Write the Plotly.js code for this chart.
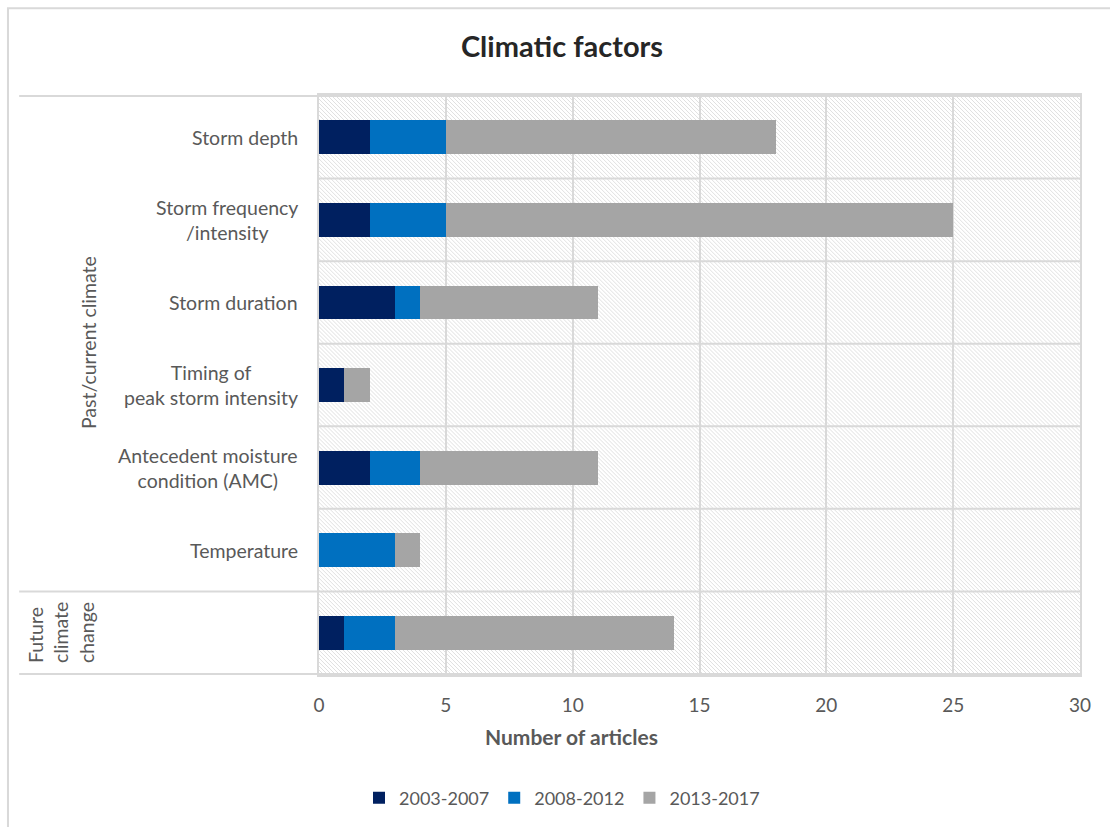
<!DOCTYPE html>
<html>
<head>
<meta charset="utf-8">
<script src="https://cdn.plot.ly/plotly-3.0.1.min.js"></script>
<style>
  html, body { margin: 0; padding: 0; background: #fff; }
  #chart { width: 1110px; height: 827px; }
</style>
</head>
<body>
<div id="chart"></div>
<script>
// Climatic factors: number of articles per factor, stacked by publication period
const categories = [
  "Storm depth",
  "Storm frequency /intensity",
  "Storm duration",
  "Timing of peak storm intensity",
  "Antecedent moisture condition (AMC)",
  "Temperature",
  "Future climate change"
];
const categoryLabels = [
  "Storm depth",
  "Storm frequency<br>/intensity",
  "Storm duration",
  "Timing of<br>peak storm intensity",
  "Antecedent moisture<br>condition (AMC)",
  "Temperature",
  ""
];
const seriesNames = ["2003-2007", "2008-2012", "2013-2017"];
const p2003_2007 = [2, 2, 3, 1, 2, 0, 1];
const p2008_2012 = [3, 3, 1, 0, 2, 3, 2];
const p2013_2017 = [13, 20, 7, 1, 7, 1, 11];
const seriesColors = ["#002060", "#0070C0", "#A5A5A5"];
const xTicks = [0, 5, 10, 15, 20, 25, 30];

const font = "Lato, 'Open Sans', sans-serif";
const grey = "#595959";
const lineGrey = "#d9d9d9";

const traces = [p2003_2007, p2008_2012, p2013_2017].map((vals, i) => ({
  type: "bar",
  orientation: "h",
  name: seriesNames[i],
  y: categories,
  x: vals,
  marker: { color: seriesColors[i], line: { width: 0 } },
  hoverinfo: "x+name"
}));

// Light diagonal hatch behind the plotting area
const W = 761, H = 581;
const hatchSvg =
  `<svg xmlns="http://www.w3.org/2000/svg" width="${W}" height="${H}">` +
  `<defs><pattern id="h" width="4" height="4" patternUnits="userSpaceOnUse">` +
  `<path d="M-1,-1 L5,5 M-1,3 L1,5 M3,-1 L5,1" stroke="#e0e0e0" stroke-width="1"/>` +
  `</pattern></defs><rect width="${W}" height="${H}" fill="#fff"/>` +
  `<rect width="${W}" height="${H}" fill="url(#h)"/></svg>`;
const hatchUri = "data:image/svg+xml;charset=utf-8," + encodeURIComponent(hatchSvg);

const shapes = [];
// separators between categories inside the plot
for (let i = 0; i < categories.length - 1; i++) {
  if (i === 5) continue;
  shapes.push({ type: "line", xref: "paper", yref: "y", x0: 0, x1: 1, y0: i + 0.5, y1: i + 0.5,
    line: { color: lineGrey, width: 2 } });
}
// group separators running under the multi-level labels
[-0.5, 5.5, 6.5].forEach(v => shapes.push({
  type: "line", xref: "paper", yref: "y", x0: -0.394, x1: 1, y0: v, y1: v,
  line: { color: lineGrey, width: 2 }
}));
// chart frame
shapes.push({ type: "rect", xref: "paper", yref: "paper",
  x0: -0.4087, x1: 1.06, y0: -0.3, y1: 1.1497,
  line: { color: lineGrey, width: 2 }, fillcolor: "rgba(0,0,0,0)" });

const annotations = categories.map((c, i) => ({
  xref: "paper", yref: "y", x: -0.025, y: c,
  xanchor: "right", yanchor: "middle", align: "center",
  text: categoryLabels[i], showarrow: false,
  font: { family: font, size: 19.5, color: grey }
}));
annotations.push({
  xref: "paper", yref: "paper", x: (88 - 319) / W, y: (676 - 343.5) / H,
  xanchor: "center", yanchor: "middle", textangle: -90,
  text: "Past/current climate", showarrow: false,
  font: { family: font, size: 19.5, color: grey }
});
annotations.push({
  xref: "paper", yref: "paper", x: (61 - 319) / W, y: (676 - 634) / H,
  xanchor: "center", yanchor: "middle", textangle: -90, align: "left",
  text: "Future<br>climate<br>change", showarrow: false,
  font: { family: font, size: 19.5, color: grey }
});
annotations.push({
  xref: "paper", yref: "paper", x: (571 - 319) / W, y: (676 - 738) / H,
  xanchor: "center", yanchor: "middle",
  text: "<b>Number of articles</b>", showarrow: false,
  font: { family: font, size: 21, color: grey }
});

const layout = {
  width: 1110, height: 827,
  margin: { l: 319, r: 30, t: 95, b: 151 },
  paper_bgcolor: "#ffffff",
  plot_bgcolor: "rgba(0,0,0,0)",
  barmode: "stack",
  bargap: 0.59,
  title: {
    text: "<b>Climatic factors</b>",
    xref: "container", x: 562 / 1110, xanchor: "center",
    yref: "container", y: 1 - 47 / 827, yanchor: "middle",
    font: { family: font, size: 29, color: "#262626" }
  },
  xaxis: {
    range: [0, 30], tickvals: xTicks, ticktext: xTicks.map(String),
    showgrid: true, gridcolor: lineGrey, gridwidth: 2,
    zeroline: false, showline: true, linecolor: lineGrey, linewidth: 2, mirror: true,
    ticks: "outside", ticklen: 12, tickcolor: "rgba(0,0,0,0)",
    tickfont: { family: font, size: 19, color: grey }, fixedrange: true
  },
  yaxis: {
    type: "category", categoryorder: "array", categoryarray: categories,
    autorange: "reversed", showticklabels: false, showgrid: false,
    zeroline: false, showline: true, linecolor: lineGrey, linewidth: 2, mirror: true,
    ticks: "", fixedrange: true
  },
  legend: {
    orientation: "h", x: (562 - 319) / W, xanchor: "center",
    y: (676 - 798) / H, yanchor: "middle",
    font: { family: font, size: 18, color: grey },
    itemwidth: 30, traceorder: "normal"
  },
  images: [{
    source: hatchUri, xref: "paper", yref: "paper",
    x: 0, y: 1, sizex: 1, sizey: 1, xanchor: "left", yanchor: "top",
    sizing: "stretch", layer: "below"
  }],
  shapes: shapes,
  annotations: annotations
};

Plotly.newPlot("chart", traces, layout, { displayModeBar: false, staticPlot: true });
</script>
</body>
</html>
